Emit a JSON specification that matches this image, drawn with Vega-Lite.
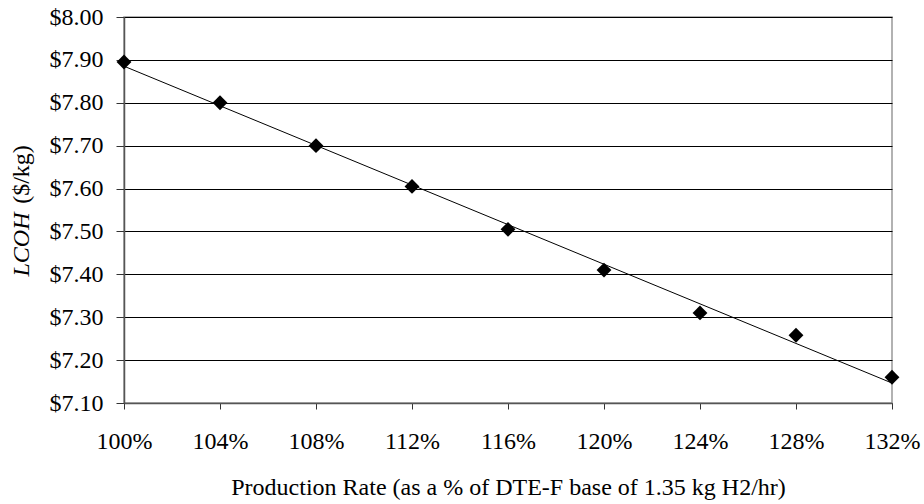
{
  "$schema": "https://vega.github.io/schema/vega-lite/v6.json",
  "autosize": "none",
  "width": 768,
  "height": 386,
  "padding": {"left": 124, "top": 17, "right": 32, "bottom": 101},
  "background": "white",
  "config": {
    "font": "Liberation Serif",
    "view": {"stroke": "#999999", "strokeWidth": 1.5},
    "axis": {
      "labelFont": "Liberation Serif",
      "titleFont": "Liberation Serif",
      "labelFontSize": 24,
      "titleFontSize": 24,
      "labelColor": "black",
      "titleColor": "black",
      "titleFontWeight": "normal",
      "tickColor": "#333333",
      "domainColor": "#555555",
      "domainWidth": 1.5
    }
  },
  "data": {
    "values": [
      {"rate": 1.00, "lcoh": 7.895},
      {"rate": 1.04, "lcoh": 7.800},
      {"rate": 1.08, "lcoh": 7.700},
      {"rate": 1.12, "lcoh": 7.605},
      {"rate": 1.16, "lcoh": 7.505},
      {"rate": 1.20, "lcoh": 7.410},
      {"rate": 1.24, "lcoh": 7.310},
      {"rate": 1.28, "lcoh": 7.258},
      {"rate": 1.32, "lcoh": 7.160}
    ]
  },
  "resolve": {"axis": {"y": "independent"}},
  "layer": [
    {
      "transform": [{"regression": "lcoh", "on": "rate", "method": "linear", "extent": [1.0, 1.32]}],
      "mark": {"type": "line", "color": "black", "strokeWidth": 1},
      "encoding": {
        "x": {"field": "rate", "type": "quantitative"},
        "y": {
          "field": "lcoh",
          "type": "quantitative",
          "axis": {
            "orient": "left",
            "labels": false,
            "ticks": false,
            "domain": false,
            "grid": false,
            "title": "($/kg)",
            "titleAngle": -90,
            "titleX": -103,
            "titleY": 157,
            "titleBaseline": "middle",
            "titleAlign": "center"
          }
        }
      }
    },
    {
      "mark": {"type": "point", "shape": "diamond", "filled": true, "color": "black", "size": 220, "opacity": 1},
      "encoding": {
        "x": {
          "field": "rate",
          "type": "quantitative",
          "scale": {"domain": [1.0, 1.32], "nice": false, "zero": false},
          "axis": {
            "values": [1.0, 1.04, 1.08, 1.12, 1.16, 1.2, 1.24, 1.28, 1.32],
            "format": ".0%",
            "grid": false,
            "tickSize": 6,
            "labelPadding": 20,
            "title": "Production Rate (as a % of DTE-F base of 1.35 kg H2/hr)",
            "titlePadding": 22,
            "labelFlush": false
          }
        },
        "y": {
          "field": "lcoh",
          "type": "quantitative",
          "scale": {"domain": [7.1, 8.0], "nice": false, "zero": false},
          "axis": {
            "orient": "left",
            "values": [7.1, 7.2, 7.3, 7.4, 7.5, 7.6, 7.7, 7.8, 7.9, 8.0],
            "format": "$.2f",
            "grid": true,
            "gridColor": "black",
            "gridWidth": 1,
            "gridOpacity": 1,
            "tickSize": 8,
            "labelPadding": 13,
            "title": "LCOH",
            "titleFontStyle": "italic",
            "titleAngle": -90,
            "titleX": -103,
            "titleY": 227,
            "titleBaseline": "middle",
            "titleAlign": "center"
          }
        }
      }
    }
  ]
}
